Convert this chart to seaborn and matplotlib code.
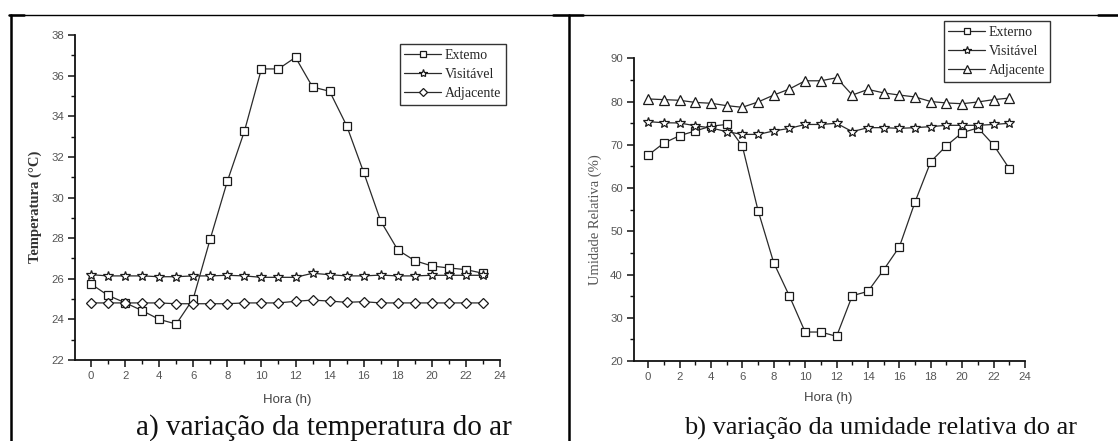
import numpy as np
import pandas as pd
import matplotlib
matplotlib.use("Agg")
import matplotlib.pyplot as plt
from matplotlib.lines import Line2D
from matplotlib.ticker import MultipleLocator
import seaborn as sns

sns.set_theme(style="white")
plt.rcParams['font.family'] = ['Liberation Sans', 'DejaVu Sans']

hours = list(range(24))

temp_externo = [25.74, 25.18, 24.82, 24.43, 24.0, 23.77, 25.02, 27.97, 30.8, 33.26,
                36.33, 36.33, 36.9, 35.44, 35.23, 33.54, 31.24, 28.84, 27.42, 26.89,
                26.63, 26.53, 26.45, 26.27]
temp_visitavel = [26.2, 26.14, 26.14, 26.14, 26.1, 26.1, 26.14, 26.14, 26.17, 26.14,
                  26.07, 26.07, 26.07, 26.27, 26.2, 26.14, 26.14, 26.18, 26.14, 26.14,
                  26.17, 26.17, 26.17, 26.17]
temp_adjacente = [24.81, 24.81, 24.81, 24.81, 24.81, 24.77, 24.77, 24.77, 24.77, 24.81,
                  24.81, 24.81, 24.89, 24.95, 24.9, 24.84, 24.87, 24.81, 24.81, 24.81,
                  24.81, 24.81, 24.81, 24.81]

ur_externo = [67.6, 70.4, 72.1, 73.2, 74.3, 74.7, 69.7, 54.8, 42.7, 35.0,
              26.7, 26.7, 25.7, 35.1, 36.1, 41.1, 46.4, 56.8, 66.1, 69.8,
              72.8, 73.9, 69.95, 64.5]
ur_visitavel = [75.35, 75.1, 75.04, 74.4, 73.9, 73.04, 72.4, 72.4, 73.2, 73.8,
                74.7, 74.7, 74.97, 73.04, 73.96, 73.96, 73.8, 73.96, 74.2, 74.5,
                74.5, 74.5, 74.7, 74.97]
ur_adjacente = [80.6, 80.44, 80.29, 79.8, 79.6, 79.05, 78.67, 79.9, 81.5, 82.9,
                84.8, 84.8, 85.5, 81.5, 82.8, 82.0, 81.5, 81.06, 80.0, 79.67,
                79.5, 79.9, 80.44, 80.8]

labels_a = ["Extemo", "Visitável", "Adjacente"]
labels_b = ["Externo", "Visitável", "Adjacente"]
xticks = list(range(0, 25, 2))

W, H = 1118, 441
fig = plt.figure(figsize=(W / 100, H / 100), dpi=100)
fig.patch.set_facecolor("white")

ax1 = fig.add_axes([75 / W, 1 - 360 / H, 425 / W, 325 / H])
ax2 = fig.add_axes([634 / W, 1 - 361 / H, 391 / W, 302.7 / H])

line_col = "#2a2a2a"
mk = dict(markerfacecolor="white", markeredgecolor="#1a1a1a", markeredgewidth=0.9)


def draw(ax, series, labels, markers, sizes):
    for vals, lab, m, s in zip(series, labels, markers, sizes):
        df = pd.DataFrame({"h": hours, "v": vals})
        sns.lineplot(data=df, x="h", y="v", ax=ax, color=line_col, lw=0.9,
                     marker=m, markersize=s, label=lab, legend=False, **mk)


draw(ax1, [temp_externo, temp_visitavel, temp_adjacente], labels_a,
     ["s", "*", "D"], [5.2, 7, 5])
draw(ax2, [ur_externo, ur_visitavel, ur_adjacente], labels_b,
     ["s", "*", "^"], [5.2, 7, 6.5])

ax1.set_xlim(-0.94, 24)
ax1.set_ylim(22, 38)
ax1.yaxis.set_major_locator(MultipleLocator(2))
ax1.yaxis.set_minor_locator(MultipleLocator(1))
ax2.set_xlim(-0.9, 24)
ax2.set_ylim(20, 90)
ax2.yaxis.set_major_locator(MultipleLocator(10))
ax2.yaxis.set_minor_locator(MultipleLocator(5))

for ax in (ax1, ax2):
    ax.set_xticks(xticks)
    ax.xaxis.set_minor_locator(MultipleLocator(1))
    sns.despine(ax=ax)
    for sp in ("left", "bottom"):
        ax.spines[sp].set_color("#111111")
        ax.spines[sp].set_linewidth(1.3)
    ax.tick_params(which="major", direction="out", length=5, width=1.1,
                   color="#111111", labelsize=8.2, labelcolor="#555555",
                   bottom=True, left=True, pad=3)
    ax.tick_params(which="minor", direction="out", length=3, width=1.0,
                   color="#111111", bottom=True, left=True)
    ax.set_facecolor("white")
    ax.set_xlabel("Hora (h)", fontsize=9.5, color="#444444", va="center")

ax1.xaxis.set_label_coords(0.499, -0.123)
ax2.xaxis.set_label_coords(0.496, -0.122)

ax1.set_ylabel("Temperatura (°C)", family="Liberation Serif", fontsize=10.5,
               fontweight="bold", color="#333333", va="center")
ax1.yaxis.set_label_coords(-0.094, 0.47)
ax2.set_ylabel("Umidade Relativa (%)", family="Liberation Serif", fontsize=10.5,
               color="#555555", va="center")
ax2.yaxis.set_label_coords(-0.1, 0.466)

leg_kw = dict(loc="upper right", bbox_transform=fig.transFigure, frameon=True,
              fancybox=False, prop={"family": "Liberation Serif", "size": 10},
              handlelength=2.6, handletextpad=0.3, labelspacing=0.45,
              borderpad=0.35, borderaxespad=0, markerscale=0.85)
lg1 = ax1.legend(handles=ax1.lines[:3], labels=labels_a,
                 bbox_to_anchor=(506 / W, 1 - 44 / H), **leg_kw)
lg2 = ax2.legend(handles=ax2.lines[:3], labels=labels_b,
                 bbox_to_anchor=(1050 / W, 1 - 21 / H), **leg_kw)
for lg in (lg1, lg2):
    fr = lg.get_frame()
    fr.set_edgecolor("#333333")
    fr.set_linewidth(1.0)
    fr.set_alpha(1)

# captions
fig.text(324 / W, 1 - 435 / H, "a) variação da temperatura do ar",
         family="Liberation Serif", fontsize=21, ha="center", va="baseline",
         color="#111111")
fig.text(881 / W, 1 - 435 / H, "b) variação da umidade relativa do ar",
         family="Liberation Serif", fontsize=19, ha="center", va="baseline",
         color="#111111")

# table borders
ytop = 1 - 15 / H
fig.add_artist(Line2D([9 / W, 1.0], [ytop, ytop], color="black", lw=1.0,
                      transform=fig.transFigure))
for a, b in [(9, 24), (553, 583), (1098, 1118)]:
    fig.add_artist(Line2D([a / W, b / W], [ytop, ytop], color="black", lw=1.8,
                          transform=fig.transFigure))
fig.add_artist(Line2D([10.5 / W, 10.5 / W], [0, ytop], color="black", lw=1.8,
                      transform=fig.transFigure))
fig.add_artist(Line2D([569 / W, 569 / W], [0, ytop], color="black", lw=1.8,
                      transform=fig.transFigure))

fig.savefig("out.png", dpi=100, facecolor="white")
